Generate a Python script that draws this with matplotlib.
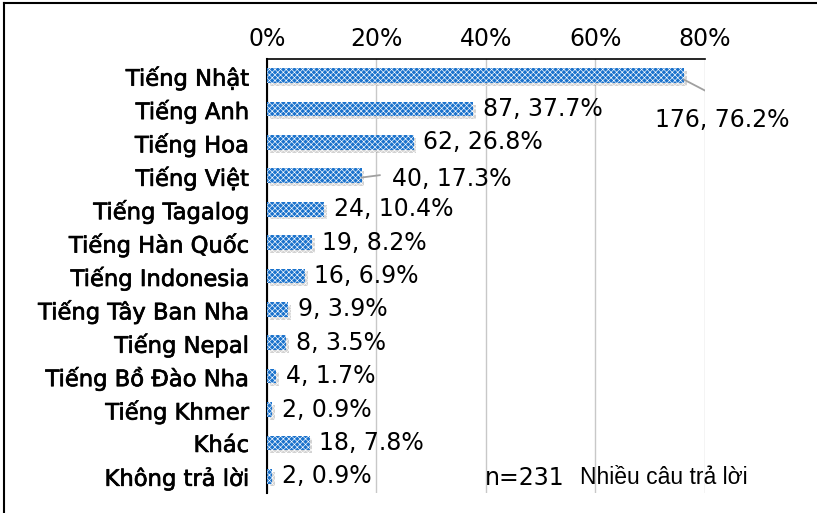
import matplotlib
matplotlib.use("Agg")
import matplotlib.pyplot as plt
import matplotlib.patheffects as pe
from matplotlib.lines import Line2D

# ---- data ----
languages = ["Tiếng Nhật", "Tiếng Anh", "Tiếng Hoa", "Tiếng Việt", "Tiếng Tagalog",
             "Tiếng Hàn Quốc", "Tiếng Indonesia", "Tiếng Tây Ban Nha", "Tiếng Nepal",
             "Tiếng Bồ Đào Nha", "Tiếng Khmer", "Khác", "Không trả lời"]
counts = [176, 87, 62, 40, 24, 19, 16, 9, 8, 4, 2, 18, 2]
percents = [76.2, 37.7, 26.8, 17.3, 10.4, 8.2, 6.9, 3.9, 3.5, 1.7, 0.9, 7.8, 0.9]
xticks = [0, 20, 40, 60, 80]
note_n = "n=231"
note_txt = "Nhiều câu trả lời"

plt.rcParams["font.family"] = ["DejaVu Sans"]
plt.rcParams["hatch.color"] = "white"
plt.rcParams["hatch.linewidth"] = 0.45

fig = plt.figure(figsize=(8.17, 5.13), dpi=100)
ax = fig.add_axes([0.3268, 0.039, 0.536, 0.846])

ypos = list(range(len(languages)))
bars = ax.barh(ypos, percents, height=0.44, color="#1a72cc", hatch="xxxxxx",
               edgecolor="white", linewidth=0, zorder=3)
for b in bars:
    b.set_path_effects([pe.SimplePatchShadow(offset=(2, -2), alpha=0.35, shadow_rgbFace="gray"),
                        pe.Normal()])

ax.set_ylim(len(languages) - 0.5, -0.5)
ax.set_xlim(0, 80)
ax.set_yticks(ypos)
ax.set_yticklabels(languages, fontsize=16.3)
for t in ax.get_yticklabels():
    t.set_path_effects([pe.withStroke(linewidth=0.5, foreground="black")])
ax.xaxis.tick_top()
ax.set_xticks(xticks)
ax.set_xticklabels([f"{t}%" for t in xticks], fontsize=17)
ax.tick_params(axis="y", length=0, pad=13)
ax.tick_params(axis="x", length=0, pad=6)
ax.grid(axis="x", color="#c8c8c8", linewidth=1, zorder=0)
for s in ["right", "bottom"]:
    ax.spines[s].set_visible(False)
ax.spines["left"].set_color("black")
ax.spines["left"].set_linewidth(1.5)
ax.spines["top"].set_color("black")
ax.spines["top"].set_linewidth(1.2)

for i, (c, p) in enumerate(zip(counts, percents)):
    lab = f"{c}, {p}%"
    if i == 0:
        ax.text(70.9, 1.32, lab, fontsize=17, ha="left", va="center")
        ax.plot([p, 83.0], [0.12, 0.70], color="#a0a0a0", lw=1.3, zorder=4)
    elif i == 3:
        ax.text(p + 5.5, i + 0.08, lab, fontsize=17, ha="left", va="center")
        ax.plot([p, p + 3.3], [i + 0.05, i - 0.02], color="#a0a0a0", lw=1.3, zorder=4)
    else:
        ax.annotate(lab, xy=(p, i), xytext=(7, 0), textcoords="offset points",
                    fontsize=17, ha="left", va="center")

ax.text(39.8, len(languages) - 0.95, note_n, fontsize=17, ha="left", va="center")
ax.text(57.2, len(languages) - 0.95, note_txt, fontsize=16.5, ha="left", va="center",
        family="Liberation Sans")

# outer frame (left and top edges)
fig.add_artist(Line2D([0.005, 0.005], [0, 0.994], transform=fig.transFigure,
                      color="black", lw=1.5))
fig.add_artist(Line2D([0.005, 1.0], [0.994, 0.994], transform=fig.transFigure,
                      color="black", lw=1.5))

fig.savefig("out.png", dpi=100)
